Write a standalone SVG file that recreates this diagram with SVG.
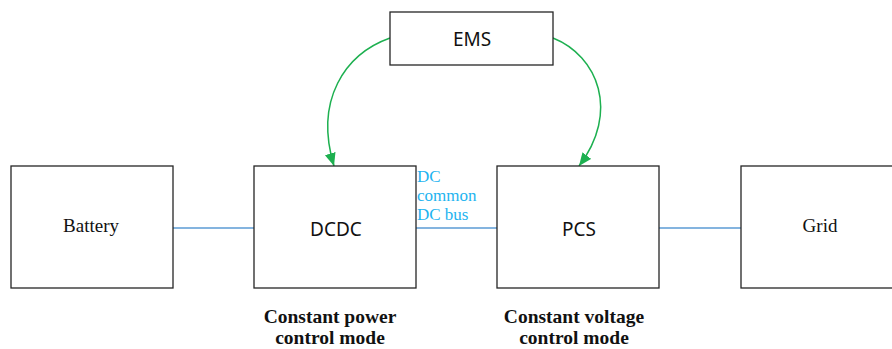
<svg xmlns="http://www.w3.org/2000/svg" width="892" height="349" viewBox="0 0 892 349">
  <style>
    .box { fill: #ffffff; stroke: #262626; stroke-width: 1.3; }
    .sans { font-family: "Noto Sans", "Open Sans", "Liberation Sans", sans-serif; font-size: 19px; fill: #111111; text-anchor: middle; }
    .serif { font-family: "Liberation Serif", "Times New Roman", serif; font-size: 19px; fill: #111111; text-anchor: middle; }
    .mode { font-family: "Liberation Serif", "Times New Roman", serif; font-size: 19.5px; font-weight: bold; fill: #111111; text-anchor: middle; }
    .bus { font-family: "Liberation Serif", "Times New Roman", serif; font-size: 17px; fill: #1EB4F0; }
    .wire { stroke: #5B9BD5; stroke-width: 1.3; fill: none; }
    .ctrl { stroke: #1DB050; stroke-width: 1.5; fill: none; marker-end: url(#greenHead); }
  </style>
  <defs>
    <marker id="greenHead" markerUnits="userSpaceOnUse" markerWidth="14" markerHeight="12" refX="13" refY="5.5" orient="auto">
      <path d="M0,0 L13,5.5 L0,11 Z" fill="#1DB050"/>
    </marker>
  </defs>

  <rect width="892" height="349" fill="#ffffff"/>

  <!-- power path connectors and control arrows -->
  <g id="connectors">
    <line class="wire" x1="173" y1="228" x2="254" y2="228"/>
    <line class="wire" x1="416" y1="228" x2="497" y2="228"/>
    <line class="wire" x1="659" y1="228" x2="741" y2="228"/>
    <path class="ctrl" d="M390,38 C345,54 314,100 334,166"/>
    <path class="ctrl" d="M553,38 C598,56 620,112 579,166"/>
  </g>

  <g id="ems">
    <rect class="box" x="390" y="12" width="163" height="53"/>
    <text class="sans" x="472" y="46">EMS</text>
  </g>

  <g id="battery">
    <rect class="box" x="11" y="166" width="162" height="122"/>
    <text class="serif" x="91" y="232">Battery</text>
  </g>

  <g id="dcdc">
    <rect class="box" x="254" y="166" width="162" height="122"/>
    <text class="sans" x="336" y="236">DCDC</text>
  </g>

  <g id="pcs">
    <rect class="box" x="497" y="166" width="162" height="122"/>
    <text class="sans" x="579" y="236">PCS</text>
  </g>

  <g id="grid">
    <rect class="box" x="741" y="166" width="162" height="122"/>
    <text class="serif" x="820" y="232">Grid</text>
  </g>

  <g id="bus-label">
    <text class="bus" x="417" y="182">DC</text>
    <text class="bus" x="417" y="201">common</text>
    <text class="bus" x="417" y="220">DC bus</text>
  </g>

  <g id="mode-labels">
    <text class="mode" x="330" y="323">Constant power</text>
    <text class="mode" x="330" y="344">control mode</text>
    <text class="mode" x="574" y="323">Constant voltage</text>
    <text class="mode" x="574" y="344">control mode</text>
  </g>
</svg>
